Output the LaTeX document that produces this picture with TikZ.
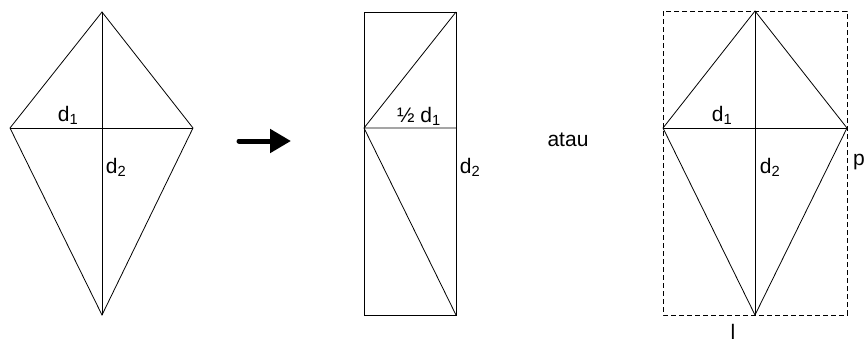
\documentclass[tikz,border=0pt]{standalone}
\usepackage{fontspec}
\setmainfont{Liberation Sans}
\usetikzlibrary{arrows.meta}

\begin{document}
\begin{tikzpicture}[x=1pt,y=-1pt,font=\fontsize{21}{24}\selectfont,line width=0.8pt,
  lbl/.style={anchor=base,inner sep=0pt},
  frame/.style={dash pattern=on 5pt off 3pt},
  bigarrow/.style={-{Triangle[length=21pt,width=23pt]},line width=5pt,line cap=round}]
\useasboundingbox (0,0) rectangle (867,343);
% first kite
\coordinate (kT) at (102,12); \coordinate (kL) at (10,128);
\coordinate (kR) at (193,128); \coordinate (kB) at (102,315);
\draw (kT) -- (kR) -- (kB) -- (kL) -- cycle;
\draw (kL) -- (kR) (kT) -- (kB);
\node[lbl] (kd1) at (68,121) {d\textsubscript{1}};
\node[lbl] (kd2) at (116,173) {d\textsubscript{2}};
% arrow
\coordinate (aS) at (239,141); \coordinate (aE) at (291,141);
\draw[bigarrow] (aS) -- (aE);
% rectangle
\coordinate (rTL) at (364,12); \coordinate (rTR) at (456,12);
\coordinate (rM) at (364,128); \coordinate (rMR) at (456,128);
\coordinate (rBR) at (456,315);
\draw (rTL) rectangle (rBR);
\draw (rM) -- (rMR) (rM) -- (rTR) (rM) -- (rBR);
\node[lbl] (rd1) at (419,122) {½ d\textsubscript{1}};
\node[lbl] (rd2) at (470,173) {d\textsubscript{2}};
\node[lbl] (atau) at (568,146) {atau};
% second kite in its frame
\coordinate (sT) at (755,11); \coordinate (sL) at (663,128);
\coordinate (sR) at (847,128); \coordinate (sB) at (755,315);
\draw[frame] (663,11) rectangle (847,315);
\draw (sT) -- (sR) -- (sB) -- (sL) -- cycle;
\draw (sL) -- (sR) (sT) -- (sB);
\node[lbl] (sd1) at (722,121) {d\textsubscript{1}};
\node[lbl] (sd2) at (770,173) {d\textsubscript{2}};
\node[lbl] (p) at (859,165) {p};
\node[lbl] (l) at (733,339) {l};
\end{tikzpicture}
\end{document}
